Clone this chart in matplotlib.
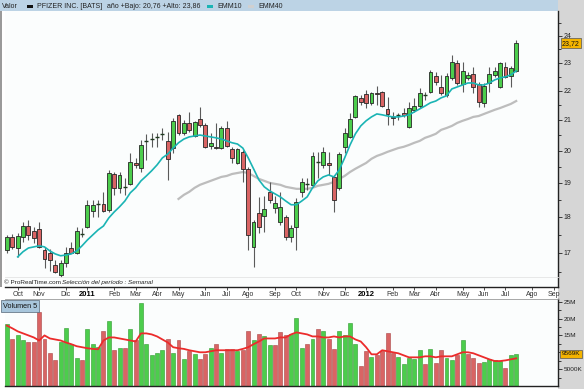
import numpy as np
import pandas as pd
import matplotlib
matplotlib.use('Agg')
import matplotlib.pyplot as plt
from matplotlib.patches import Rectangle
from matplotlib.lines import Line2D
from matplotlib.ticker import FixedLocator, NullFormatter, FuncFormatter
from matplotlib.transforms import blended_transform_factory

plt.rcParams['font.family'] = ['Liberation Sans', 'DejaVu Sans']

W, H = 584, 389

# weekly candles, PFIZER INC. [BATS], from week of 20 Sep 2010
opens = [17.08, 17.44, 17.13, 17.44, 17.74, 17.60, 17.66, 17.08, 17.00, 16.68,
         16.41, 16.73, 17.13, 17.00, 17.53, 17.71, 18.17, 18.37, 18.38, 18.20,
         19.27, 18.85, 18.89, 18.97, 19.61, 19.46, 20.30, 20.36, 20.43, 20.53,
         20.31, 20.08, 21.17, 20.57, 20.90, 20.47, 21.03, 20.83, 20.15, 20.12,
         20.08, 20.73, 20.05, 19.61, 19.96, 19.43, 17.16, 18.11, 18.03, 18.73,
         18.26, 17.86, 18.00, 17.44, 17.71, 18.73, 18.96, 18.94, 19.63, 19.55,
         19.61, 19.18, 18.85, 20.12, 20.44, 21.10, 21.75, 21.89, 21.58, 21.93,
         21.96, 21.37, 21.10, 21.16, 21.24, 20.77, 21.34, 21.47, 21.85, 21.96,
         22.52, 22.13, 21.85, 22.45, 22.99, 22.24, 22.45, 22.59, 22.24, 21.58,
         22.27, 22.56, 22.13, 22.85, 22.52, 22.70]
highs = [17.49, 17.52, 17.55, 17.86, 17.91, 17.71, 17.86, 17.16, 17.10, 16.81,
         16.81, 17.16, 17.30, 17.71, 17.69, 18.49, 18.49, 18.49, 18.73, 19.40,
         19.33, 19.33, 19.15, 19.92, 19.77, 20.34, 20.54, 20.57, 20.57, 20.73,
         20.60, 21.07, 21.20, 21.00, 21.27, 20.97, 21.44, 20.90, 20.57, 20.90,
         20.80, 20.97, 20.12, 20.08, 20.02, 19.49, 17.91, 18.58, 18.61, 19.03,
         18.61, 18.73, 18.06, 17.77, 18.55, 19.15, 19.15, 19.96, 19.96, 20.12,
         19.96, 19.24, 19.96, 20.73, 21.24, 21.85, 21.85, 22.03, 21.96, 22.17,
         21.99, 21.78, 21.27, 21.24, 21.40, 21.61, 21.75, 22.10, 21.96, 22.74,
         22.67, 22.56, 22.63, 23.29, 23.10, 23.03, 22.67, 22.85, 22.31, 22.27,
         22.85, 22.85, 23.03, 23.03, 22.88, 23.85]
lows = [17.00, 17.11, 16.89, 17.30, 17.35, 17.27, 17.13, 16.60, 16.52, 16.46,
        16.36, 16.63, 16.99, 16.97, 17.44, 17.69, 18.00, 18.00, 18.14, 18.14,
        18.64, 18.70, 18.64, 18.94, 19.46, 19.33, 19.71, 20.12, 20.12, 20.34,
        19.09, 19.92, 20.50, 20.50, 20.60, 20.44, 20.77, 20.08, 20.05, 20.06,
        20.06, 20.12, 19.61, 19.58, 19.03, 17.08, 16.63, 17.55, 17.58, 18.40,
        18.11, 17.77, 17.35, 17.30, 17.08, 18.58, 18.79, 18.88, 19.15, 19.46,
        19.24, 18.14, 18.79, 19.92, 20.41, 21.07, 21.51, 21.40, 21.51, 21.51,
        21.44, 20.83, 20.83, 21.00, 21.10, 20.73, 21.27, 21.40, 21.68, 21.92,
        22.20, 21.85, 21.78, 22.38, 22.20, 21.96, 22.38, 21.92, 21.44, 21.44,
        21.96, 22.49, 22.10, 22.45, 22.13, 22.67]
closes = [17.44, 17.16, 17.46, 17.74, 17.49, 17.41, 17.16, 16.84, 16.81, 16.49,
          16.73, 17.00, 17.00, 17.60, 17.52, 18.35, 18.35, 18.38, 18.17, 19.30,
          18.85, 19.24, 18.88, 19.64, 19.55, 20.18, 20.31, 20.37, 20.44, 20.54,
          19.74, 20.97, 20.57, 20.90, 20.67, 20.93, 20.83, 20.12, 20.25, 20.08,
          20.73, 20.15, 19.77, 20.05, 19.43, 17.49, 17.86, 17.71, 18.23, 18.49,
          18.40, 18.29, 17.44, 17.69, 18.43, 19.03, 18.97, 19.83, 19.64, 19.96,
          19.55, 18.49, 19.89, 20.57, 21.03, 21.82, 21.61, 21.58, 21.92, 21.90,
          21.47, 21.20, 21.07, 21.17, 21.17, 21.40, 21.47, 21.92, 21.86, 22.67,
          22.31, 21.92, 22.52, 23.03, 22.27, 22.70, 22.56, 22.13, 21.61, 22.17,
          22.59, 22.70, 22.99, 22.49, 22.81, 23.72]

# EMM10 from the 3rd week, EMM40 from the 33rd week
emm10 = [16.89, 17.03, 17.13, 17.16, 17.19, 17.16, 17.05, 16.97, 16.92, 16.94,
         16.97, 17.05, 17.19, 17.35, 17.49, 17.63, 17.74, 17.97, 18.14, 18.29,
         18.46, 18.70, 18.85, 19.06, 19.21, 19.37, 19.55, 19.77, 19.89, 20.08,
         20.25, 20.37, 20.44, 20.47, 20.50, 20.47, 20.44, 20.41, 20.37, 20.31,
         20.25, 20.21, 20.08, 19.77, 19.43, 19.09, 18.88, 18.76, 18.67, 18.58,
         18.46, 18.35, 18.35, 18.46, 18.58, 18.85, 19.06, 19.18, 19.24, 19.18,
         19.40, 19.77, 20.18, 20.54, 20.80, 20.97, 21.10, 21.20, 21.17, 21.13,
         21.10, 21.10, 21.13, 21.17, 21.27, 21.37, 21.47, 21.58, 21.64, 21.75,
         21.82, 22.06, 22.13, 22.20, 22.27, 22.27, 22.20, 22.20, 22.27, 22.38,
         22.45, 22.49, 22.56, 22.70]
emm40 = [18.52, 18.64, 18.73, 18.85, 18.94, 19.00, 19.06, 19.12, 19.18, 19.21,
         19.27, 19.30, 19.33, 19.30, 19.21, 19.12, 19.06, 19.00, 18.97, 18.94,
         18.88, 18.85, 18.82, 18.82, 18.82, 18.85, 18.91, 18.94, 18.97, 19.03,
         19.12, 19.21, 19.33, 19.43, 19.52, 19.61, 19.74, 19.83, 19.89, 19.96,
         20.02, 20.08, 20.12, 20.18, 20.25, 20.31, 20.41, 20.47, 20.54, 20.67,
         20.73, 20.80, 20.90, 20.97, 21.03, 21.10, 21.13, 21.20, 21.27, 21.34,
         21.40, 21.47, 21.54, 21.64]

# volume in millions and its average ("Volumen 5")
volume = [18.4, 14.0, 15.0, 13.5, 13.0, 13.0, 21.9, 14.0, 9.8, 7.6,
          13.0, 17.3, 12.5, 8.4, 7.6, 17.0, 12.5, 11.6, 16.3, 19.4,
          10.6, 11.4, 11.4, 17.0, 13.5, 24.6, 12.5, 9.1, 9.8, 10.6,
          14.0, 9.8, 13.5, 8.1, 10.3, 9.4, 8.1, 9.4, 11.4, 12.5,
          9.8, 10.9, 10.9, 10.3, 10.6, 16.3, 13.5, 15.4, 14.7, 12.3,
          12.3, 16.0, 15.0, 15.5, 20.1, 11.4, 12.5, 14.0, 17.0, 16.2,
          14.0, 11.1, 16.3, 15.0, 18.7, 12.5, 5.9, 10.3, 8.6, 9.1,
          10.4, 15.8, 9.8, 8.6, 6.4, 8.3, 8.1, 10.6, 6.4, 10.9,
          6.7, 10.6, 8.4, 7.8, 9.1, 13.5, 9.6, 8.4, 6.9, 7.2,
          8.1, 7.6, 7.4, 5.4, 9.1, 9.569]
vol_avg = [17.9, 17.1, 16.2, 15.6, 15.0, 14.4, 13.5, 15.0, 14.1, 13.8,
           13.5, 12.9, 12.4, 11.8, 11.5, 11.2, 11.0, 10.9, 13.5, 14.4,
           14.4, 14.1, 13.8, 13.5, 13.2, 15.6, 15.6, 15.3, 14.7, 13.8,
           12.9, 11.5, 11.2, 11.0, 10.6, 10.3, 10.0, 10.0, 10.3, 10.6,
           10.6, 10.6, 10.6, 10.6, 11.0, 11.5, 12.4, 13.2, 14.1, 14.1,
           14.1, 14.4, 14.4, 15.3, 15.9, 15.6, 15.3, 14.7, 14.7, 14.4,
           14.4, 14.7, 14.4, 14.7, 14.7, 13.8, 13.2, 11.5, 9.4, 9.4,
           10.6, 10.3, 10.0, 9.7, 9.1, 8.5, 8.5, 8.5, 8.8, 8.8,
           8.5, 8.8, 8.8, 8.8, 9.4, 10.0, 10.0, 9.7, 9.1, 8.5,
           7.9, 7.4, 7.4, 7.6, 7.9, 8.2]

month_names = ['Ene', 'Feb', 'Mar', 'Abr', 'May', 'Jun', 'Jul', 'Ago', 'Sep', 'Oct', 'Nov', 'Dic']
price_ticks = [17, 18, 19, 20, 21, 22, 23, 24]
vol_ticks = [5, 10, 15, 20, 25]
vol_labels = ['5000K', '', '15M', '20M', '25M']

GREEN = '#4ccd4c'
RED = '#d96464'


def rect(x0, y0, x1, y1):
    return [x0 / W, 1 - y1 / H, (x1 - x0) / W, (y1 - y0) / H]


n = len(closes)
idx = np.arange(n)
weeks = pd.date_range('2010-09-20', periods=n + 8, freq='7D')
xmin, xmax = -0.37, 102.8

# first week of every month -> tick
tick_pos, tick_lab = [], []
prev = None
for i, d in enumerate(weeks):
    if prev is not None and d.month != prev:
        tick_pos.append(i)
        tick_lab.append(str(d.year) if d.month == 1 else month_names[d.month - 1])
    prev = d.month

fig = plt.figure(figsize=(W / 100, H / 100), dpi=100)
fig.patch.set_facecolor('white')

# right column, header, left strip
fig.patches.append(Rectangle((558 / W, 0), 26 / W, 1, transform=fig.transFigure,
                             facecolor='#d6d6d6', edgecolor='none', zorder=-5))
fig.patches.append(Rectangle((0, 1 - 11 / H), 558 / W, 11 / H, transform=fig.transFigure,
                             facecolor='#bcd3e5', edgecolor='none', zorder=-5))
fig.patches.append(Rectangle((0, 1 - 287 / H), 2 / W, 276 / H, transform=fig.transFigure,
                             facecolor='#9a9a9a', edgecolor='none', zorder=-5))

# ---- price panel
ax = fig.add_axes(rect(5, 11, 558, 287))
ax.set_facecolor('#fbfdfd')

o = np.array(opens)
c = np.array(closes)
up = c >= o
doji = np.abs(c - o) < 0.02
body_lo = np.minimum(o, c)
body_h = np.abs(c - o)
cols = [GREEN if u else RED for u in up]

ax.vlines(idx, lows, highs, color='#5a5a5a', lw=0.8, zorder=2)
nd = ~doji
ax.bar(idx[nd], body_h[nd], bottom=body_lo[nd], width=0.72,
       color=[cols[i] for i in idx[nd]], edgecolor='#262626', linewidth=0.6, zorder=3)
ax.hlines(c[doji], idx[doji] - 0.38, idx[doji] + 0.38, color='#1f3a1f', lw=1.0, zorder=3)

ax.plot(idx[n - len(emm40):], emm40, color='#bdbdbd', lw=1.6, zorder=1.5)
ax.plot(idx[n - len(emm10):], emm10, color='#1ab4b4', lw=1.2, zorder=4)

ax.set_yscale('log')
ax.set_ylim(16.10, 24.97)
ax.set_xlim(xmin, xmax)
ax.yaxis.tick_right()
ax.yaxis.set_major_locator(FixedLocator(price_ticks))
ax.yaxis.set_major_formatter(FuncFormatter(lambda v, p: '%d' % round(v)))
ax.yaxis.set_minor_locator(FixedLocator([t + 0.5 for t in [16] + price_ticks]))
ax.yaxis.set_minor_formatter(NullFormatter())
ax.tick_params(axis='y', which='major', length=3, width=0.6, labelsize=5, pad=1,
               colors='#222222')
ax.tick_params(axis='y', which='minor', length=2, width=0.6, colors='#222222')
ax.set_xticks(tick_pos)
ax.set_xticklabels(tick_lab)
ax.tick_params(axis='x', length=2, width=0.6, labelsize=5, pad=1, colors='#333333')
for lab in ax.get_xticklabels():
    if lab.get_text().isdigit():
        lab.set_fontweight('bold')
        lab.set_color('black')
        lab.set_fontsize(5.5)
for s in ['left', 'top']:
    ax.spines[s].set_visible(False)
for s in ['bottom', 'right']:
    ax.spines[s].set_color('#222222')
    ax.spines[s].set_linewidth(1.0)

fig.add_artist(Line2D([5 / W, 558 / W], [1 - 277 / H] * 2, color='#e4e4e4', lw=0.6))
fig.text(4 / W, 1 - 282.5 / H, '\u00a9 ProRealTime.com', fontsize=4.6, va='center', color='#222222')
fig.text(62 / W, 1 - 282.5 / H, 'Selecci\u00f3n del per\u00edodo : Semanal', fontsize=4.6,
         va='center', style='italic', color='#222222')

# last price box
tr = blended_transform_factory(fig.transFigure, ax.transData)
fig.text(571 / W, closes[-1], ('%.2f' % closes[-1]).replace('.', ','), transform=tr,
         fontsize=5, ha='center', va='center', color='#111111',
         bbox=dict(boxstyle='square,pad=0.2', fc='#f4b400', ec='#555555', lw=0.5))

# header
hy = 1 - 6 / H
hfs = 5.0
fig.text(2 / W, hy, 'Valor', fontsize=hfs, va='center', color='#222222')
fig.patches.append(Rectangle((27 / W, 1 - 7.5 / H), 6 / W, 3 / H, transform=fig.transFigure,
                             facecolor='#111111', edgecolor='none'))
fig.text(37 / W, hy, 'PFIZER INC. [BATS]', fontsize=hfs, va='center', color='#222222')
fig.text(107 / W, hy, 'a\u00f1o +Bajo: 20,76 +Alto: 23,86', fontsize=hfs, va='center', color='#222222')
fig.patches.append(Rectangle((207 / W, 1 - 7.5 / H), 6 / W, 3 / H, transform=fig.transFigure,
                             facecolor='#1ab4b4', edgecolor='none'))
fig.text(217 / W, hy, 'EMM10', fontsize=hfs, va='center', color='#222222')
fig.patches.append(Rectangle((248 / W, 1 - 7.5 / H), 6 / W, 3 / H, transform=fig.transFigure,
                             facecolor='#d0d0d0', edgecolor='none'))
fig.text(258 / W, hy, 'EMM40', fontsize=hfs, va='center', color='#222222')

# ---- volume panel
axv = fig.add_axes(rect(5, 299, 558, 386))
axv.set_facecolor('#fbfdfd')
vol_up = [True] + [closes[i] >= closes[i - 1] for i in range(1, n)]
vcols = [GREEN if u else RED for u in vol_up]
vedge = ['#2f9a2f' if u else '#a94545' for u in vol_up]
axv.bar(idx, volume, width=0.74, color=vcols, edgecolor=vedge, linewidth=0.4, zorder=2)
axv.plot(idx, vol_avg, color='#ec2b2b', lw=1.3, zorder=3)
axv.set_xlim(xmin, xmax)
axv.set_ylim(0, 25.8)
axv.set_xticks([])
axv.yaxis.tick_right()
axv.set_yticks(vol_ticks)
axv.set_yticklabels(vol_labels)
axv.yaxis.set_minor_locator(FixedLocator([2.5, 7.5, 12.5, 17.5, 22.5]))
axv.tick_params(axis='y', which='major', length=3, width=0.6, labelsize=4.6, pad=1, colors='#222222')
axv.tick_params(axis='y', which='minor', length=2, width=0.6, colors='#222222')
axv.spines['left'].set_visible(False)
axv.spines['top'].set_color('#9a9a9a')
axv.spines['top'].set_linewidth(0.6)
for s in ['bottom', 'right']:
    axv.spines[s].set_color('#222222')
    axv.spines[s].set_linewidth(1.0)

trv = blended_transform_factory(fig.transFigure, axv.transData)
fig.text(571 / W, volume[-1], '%dK' % round(volume[-1] * 1000), transform=trv,
         fontsize=4.6, ha='center', va='center', color='#111111',
         bbox=dict(boxstyle='square,pad=0.2', fc='#f4b400', ec='#555555', lw=0.5))
fig.text(3 / W, 1 - 306 / H, 'Volumen 5', fontsize=5.2, va='center', color='#111111',
         bbox=dict(boxstyle='square,pad=0.3', fc='#a8c6dc', ec='#556677', lw=0.5))

fig.savefig('out.png', dpi=100, facecolor=fig.get_facecolor())
